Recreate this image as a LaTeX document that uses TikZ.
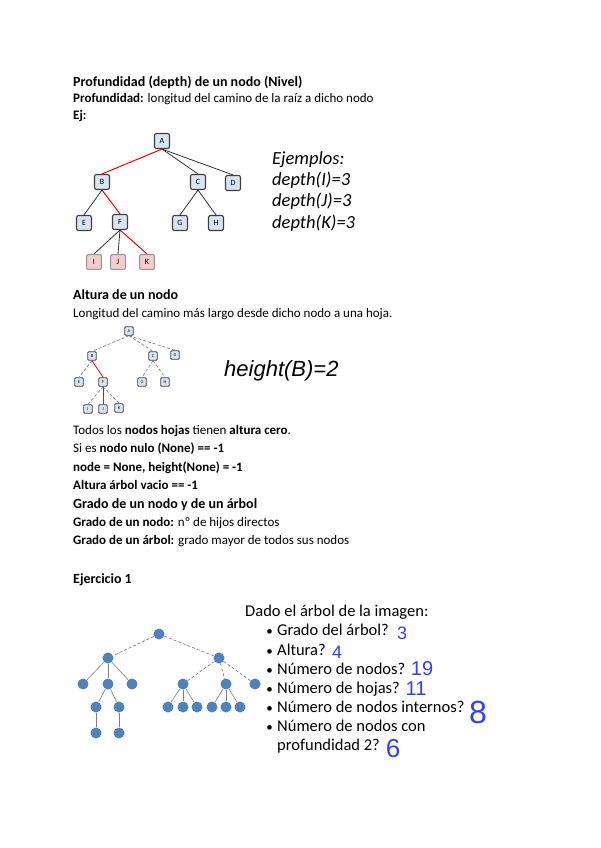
\documentclass[tikz,border=0pt]{standalone}
\usepackage{fontspec}
\setmainfont{Carlito}
\newfontfamily\arialfont{Liberation Sans}
\usetikzlibrary{positioning}

\definecolor{boxblue}{RGB}{214,228,243}
\definecolor{boxpink}{RGB}{244,204,204}
\definecolor{dotblue}{RGB}{79,129,189}
\definecolor{inkblue}{RGB}{45,65,250}

\tikzset{
  body/.style={anchor=base west, inner sep=0pt, font=\fontsize{13}{15}\selectfont},
  head/.style={anchor=base west, inner sep=0pt, font=\fontsize{14}{17}\selectfont\bfseries},
  example/.style={anchor=base west, inner sep=0pt, font=\fontsize{18.5}{21}\selectfont\itshape},
  question/.style={anchor=base west, inner sep=0pt, font=\fontsize{16.5}{19}\selectfont},
  answer/.style={inner sep=0pt, text=inkblue, font=\arialfont},
  bigbox/.style={draw=black!75, line width=1.1pt, fill=boxblue, rounded corners=2pt,
    minimum size=15pt, inner sep=0pt, font=\fontsize{8}{8}\selectfont},
  leafbox/.style={bigbox, fill=boxpink, draw=black!40},
  smallbox/.style={draw=black!75, line width=0.8pt, fill=boxblue, rounded corners=1pt,
    minimum size=8.5pt, inner sep=0pt, font=\fontsize{4.5}{4.5}\selectfont},
  dot/.style={circle, fill=dotblue, minimum size=11pt, inner sep=0pt},
  redline/.style={red, line width=1pt},
  blackline/.style={black!80, line width=0.8pt},
  thinline/.style={black!55, line width=0.6pt, densely dashed},
  twig/.style={gray, line width=0.6pt}
}

\begin{document}
\begin{tikzpicture}[x=1pt, y=-1pt]
    \useasboundingbox (0,0) rectangle (600,848);

    % Profundidad
    \node[head] (h1) at (73,87) {Profundidad (depth) de un nodo (Nivel)};
    \node[body] (t1) at (73,102.5) {\textbf{Profundidad:} longitud del camino de la raíz a dicho nodo};
    \node[body] (t2) at (73,120) {\textbf{Ej:}};

    % depth tree
    \node[bigbox] (A) at (162,141) {A};
    \node[bigbox] (B) at (102,182) {B};
    \node[bigbox] (C) at (198,182) {C};
    \node[bigbox] (D) at (233,183) {D};
    \node[bigbox] (E) at (84,223) {E};
    \node[bigbox] (F) at (120,222) {F};
    \node[bigbox] (G) at (180,223) {G};
    \node[bigbox] (H) at (216,223) {H};
    \node[leafbox] (I) at (94,262) {I};
    \node[leafbox] (J) at (118,262) {J};
    \node[leafbox] (K) at (147,262) {K};

    \draw[redline] (A.south) -- (B.north);
    \draw[redline] (B.south) -- (F.north);
    \draw[redline] (F.south) -- (K.north);
    \draw[blackline] (A.south) -- (C.north);
    \draw[blackline] (A.south) -- (D.north);
    \draw[blackline] (B.south) -- (E.north);
    \draw[blackline] (C.south) -- (G.north);
    \draw[blackline] (C.south) -- (H.north);
    \draw[blackline] (F.south) -- (I.north);
    \draw[blackline] (F.south) -- (J.north);

    \node[example] (ex0) at (272,164) {Ejemplos:};
    \node[example] (ex1) at (272,185.5) {depth(I)=3};
    \node[example] (ex2) at (272,206.5) {depth(J)=3};
    \node[example] (ex3) at (272,228) {depth(K)=3};

    % Altura
    \node[head] (h2) at (73,299) {Altura de un nodo};
    \node[body] (t3) at (73,317.5) {Longitud del camino más largo desde dicho nodo a una hoja.};

    % height tree
    \node[smallbox] (a) at (129,331) {A};
    \node[smallbox] (b) at (92,356) {B};
    \node[smallbox] (c) at (153,356) {C};
    \node[smallbox] (d) at (175,355) {D};
    \node[smallbox] (e) at (79,382) {E};
    \node[smallbox] (f) at (103,382) {F};
    \node[smallbox] (g) at (142,382) {G};
    \node[smallbox] (h) at (165,382) {H};
    \node[smallbox] (i) at (88,409) {I};
    \node[smallbox] (j) at (103,409) {J};
    \node[smallbox] (k) at (119,408) {K};

    \foreach \p/\q in {a/b, a/c, a/d, b/e, c/g, c/h, f/i, f/k}
        \draw[thinline] (\p.south) -- (\q.north);
    \draw[red, line width=0.8pt] (b.south) -- (f.north);
    \draw[red, line width=0.8pt] (f.south) -- (j.north);

    \node[anchor=base west, inner sep=0pt, font=\arialfont\fontsize{22}{22}\selectfont\itshape]
        (hb) at (224,376) {height(B)=2};

    \node[body] (t4) at (73,434.5) {Todos los \textbf{nodos hojas} tienen \textbf{altura cero}.};
    \node[body] (t5) at (73,452.5) {Si es \textbf{nodo nulo (None) == -1}};
    \node[body] (t6) at (73,471.5) {\textbf{node = None, height(None) = -1}};
    \node[body] (t7) at (73,489) {\textbf{Altura árbol vacio == -1}};

    % Grado
    \node[head] (h3) at (73,508) {Grado de un nodo y de un árbol};
    \node[body] (t8) at (73,526) {\textbf{Grado de un nodo:} nº de hijos directos};
    \node[body] (t9) at (73,544) {\textbf{Grado de un árbol:} grado mayor de todos sus nodos};

    % Ejercicio 1
    \node[head] (h4) at (73,583) {Ejercicio 1};

    \node[dot] (r) at (159,634) {};
    \node[dot] (l) at (108,658) {};
    \node[dot] (m) at (219,658) {};
    \node[dot] (l1) at (83,684) {};
    \node[dot] (l2) at (108,684) {};
    \node[dot] (l3) at (132,684) {};
    \node[dot] (m1) at (183,684) {};
    \node[dot] (m2) at (226,684) {};
    \node[dot] (m3) at (255,684) {};
    \node[dot] (l21) at (96,707) {};
    \node[dot] (l22) at (119,707) {};
    \node[dot] (m11) at (168,707) {};
    \node[dot] (m12) at (183,707) {};
    \node[dot] (m13) at (197,707) {};
    \node[dot] (m21) at (212,707) {};
    \node[dot] (m22) at (226,707) {};
    \node[dot] (m23) at (240,707) {};
    \node[dot] (l211) at (96,733) {};
    \node[dot] (l221) at (119,733) {};

    \foreach \p/\q in {r/l, r/m, m/m1, m/m2, m/m3}
        \draw[thinline] (\p) -- (\q);
    \foreach \p/\q in {l/l1, l/l2, l/l3, l2/l21, l2/l22, m1/m11, m1/m12, m1/m13,
                       m2/m21, m2/m22, m2/m23, l21/l211, l22/l221}
        \draw[twig] (\p) -- (\q);

    \node[question] (q0) at (245,616.5) {Dado el árbol de la imagen:};
    \foreach \y/\txt [count=\n] in {635.5/Grado del árbol?, 655/Altura?, 674/Número de nodos?,
                          693/Número de hojas?, 712/Número de nodos internos?,
                          731.5/Número de nodos con}
    {
        \node[question, anchor=base, font=\fontsize{13}{13}\selectfont] (b\n) at (269.5,\y) {\textbullet};
        \node[question] (q\n) at (277,\y) {\txt};
    }
    \node[question] (q7) at (277,750.5) {profundidad 2?};

    % handwritten answers
    \node[answer, font=\arialfont\fontsize{18}{18}\selectfont] (r1) at (402,633) {3};
    \node[answer, font=\arialfont\fontsize{18}{18}\selectfont] (r2) at (337,652) {4};
    \node[answer, font=\arialfont\fontsize{20}{20}\selectfont] (r3) at (422,669) {19};
    \node[answer, font=\arialfont\fontsize{20}{20}\selectfont] (r4) at (416,689) {11};
    \node[answer, font=\arialfont\fontsize{32}{32}\selectfont] (r5) at (478,712) {8};
    \node[answer, font=\arialfont\fontsize{26}{26}\selectfont] (r6) at (393,749) {6};
\end{tikzpicture}
\end{document}
